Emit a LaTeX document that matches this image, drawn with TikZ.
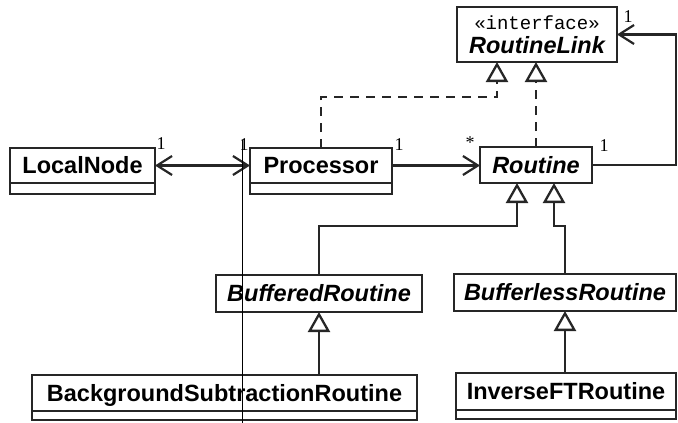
\documentclass[tikz,border=0pt]{standalone}
\usepackage{fontspec}
\setmainfont{Liberation Serif}
\setsansfont{Liberation Sans}
\setmonofont{Liberation Mono}
\usepackage{tikz}
\usetikzlibrary{arrows.meta}
\usetikzlibrary{positioning}

\begin{document}
\begin{tikzpicture}[
	x=1pt, y=1pt,
	font=\sffamily\bfseries\fontsize{23.5}{28}\selectfont
]
\tikzset{
    mybox/.style = {rectangle, draw=black!85, line width=2.8pt, anchor=north west, inner sep=0pt, outer sep=0pt},
    myclass/.style = {mybox, text height=17pt, text depth=1pt},
    myabstract/.style = {myclass, font=\sffamily\bfseries\itshape\fontsize{23.5}{28}\selectfont},
    mycompart/.style = {mybox, minimum height=11pt},
    mymult/.style = {font=\rmfamily\mdseries\fontsize{18}{18}\selectfont, inner sep=0pt},
    mybarb/.tip = {Straight Barb[length=15pt,width=19pt,line width=2.2pt]},
    myassoc/.style = {draw=black!85, line width=2.3pt, -mybarb},
    myboth/.style = {draw=black!85, line width=2.3pt, mybarb-mybarb},
    myinherit/.style = {draw=black!85, line width=2.3pt, -{Triangle[open,length=20pt,width=22pt,line width=2.3pt]}},
    myrealize/.style = {myinherit, dash pattern=on 9pt off 7pt}
}
\useasboundingbox (0,0) rectangle (678,-423);
\node[myclass,minimum width=145pt,minimum height=35pt] (localnode) at (10,-148) {LocalNode};
\node[mycompart,minimum width=145pt] (localnode2) at (localnode.south west) {};
\node[myclass,minimum width=142pt,minimum height=35pt] (processor) at (250,-148) {Processor};
\node[mycompart,minimum width=142pt] (processor2) at (processor.south west) {};
\node[myabstract,minimum width=112pt,minimum height=36pt] (routine) at (480,-147) {Routine};
\node[mybox,align=center,minimum width=160pt,minimum height=55pt,
      font=\sffamily\bfseries\itshape\fontsize{23.5}{24}\selectfont] (link) at (457,-7)
      {{\ttfamily\mdseries\upshape\fontsize{19}{20}\selectfont «interface»}\\RoutineLink};
\node[myabstract,minimum width=206pt,minimum height=37pt] (buffered) at (216,-275) {BufferedRoutine};
\node[myabstract,minimum width=222pt,minimum height=37pt] (bufferless) at (454,-274) {BufferlessRoutine};
\node[myclass,minimum width=385pt,minimum height=36pt] (bgsub) at (32,-375) {BackgroundSubtractionRoutine};
\node[mycompart,minimum width=385pt,minimum height=9pt] (bgsub2) at (bgsub.south west) {};
\node[myclass,minimum width=220pt,minimum height=37pt] (invft) at (456,-373) {InverseFTRoutine};
\node[mycompart,minimum width=220pt,minimum height=9pt] (invft2) at (invft.south west) {};

\coordinate (rtedge) at (676,-100);
\coordinate (rbend) at (0,-97);
\coordinate (gbend) at (0,-226);
\coordinate (linkL) at ([xshift=-40pt]link.south);
\coordinate (routineL) at ([xshift=-19pt]routine.south);
\coordinate (routineR) at ([xshift=18pt]routine.south);

\draw[myboth] (localnode.east) -- (processor.west);
\draw[myassoc] (processor.east) -- (processor.east -| routine.west);
\draw[myassoc] (routine.east) -| (rtedge) |- (link.east);
\draw[myrealize] (processor.north) |- (rbend -| linkL) -- (linkL);
\draw[myrealize] (routine.north) -- (routine.north |- link.south);
\draw[myinherit] (buffered.north) |- (gbend -| routineL) -- (routineL);
\draw[myinherit] (bufferless.north) |- (gbend -| routineR) -- (routineR);
\draw[myinherit] (bgsub.north -| buffered.south) -- (buffered.south);
\draw[myinherit] (invft.north -| bufferless.south) -- (bufferless.south);

\node[mymult] (m1) at (161,-144) {1};
\node[mymult] (m2) at (244,-145) {1};
\node[mymult] (m3) at (399,-145) {1};
\node[mymult] (m4) at (470,-143) {*};
\node[mymult] (m5) at (604,-146) {1};
\node[mymult] (m6) at (628,-17) {1};

\draw[line width=1pt] (242,-140) -- (242,-423);
\end{tikzpicture}
\end{document}
